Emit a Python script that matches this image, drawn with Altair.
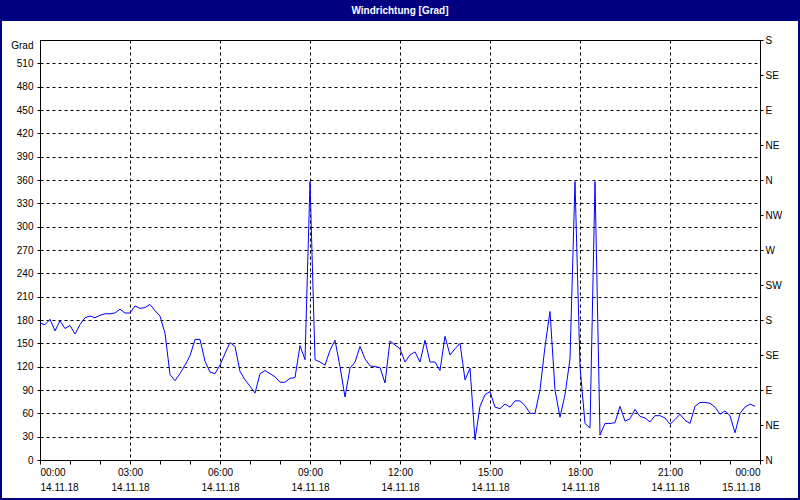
import altair as alt
import pandas as pd

# Wind direction in degrees, 10-minute samples from 14.11.18 00:00 to 23:50
values = [
    176, 174, 181, 166, 179, 169, 173, 162, 174, 183, 185, 183,
    186, 188, 188, 189, 194, 189, 189, 198, 195, 196, 200, 192,
    185, 163, 110, 102, 111, 122, 134, 155, 155, 127, 113, 111,
    122, 137, 151, 146, 114, 103, 95, 86, 111, 115, 111, 107,
    100, 100, 105, 106, 147, 129, 358, 129, 126, 122, 141, 154,
    120, 81, 118, 126, 146, 130, 121, 120, 119, 99, 153, 148,
    143, 126, 135, 139, 126, 154, 126, 126, 115, 159, 135, 143,
    150, 103, 118, 26, 69, 84, 88, 68, 66, 72, 68, 76,
    76, 70, 60, 60, 90, 146, 191, 90, 55, 84, 130, 358,
    120, 47, 41, 358, 32, 47, 47, 48, 69, 50, 53, 65,
    56, 54, 49, 57, 57, 54, 46, 52, 59, 51, 47, 69,
    74, 74, 73, 68, 59, 63, 57, 35, 60, 68, 72, 69,
]
hours = [i / 6 for i in range(len(values))]

title_text = "Windrichtung [Grad]"
left_ticks = list(range(0, 541, 30))
right_ticks = list(range(0, 541, 45))
compass = ["N", "NE", "E", "SE", "S", "SW", "W", "NW"]
hour_ticks = list(range(0, 25))
day1 = "14.11.18"
day2 = "15.11.18"

df = pd.DataFrame({"hour": hours, "value": values})

FONT = "Liberation Sans"
NAVY = "#000080"

x_axis = alt.Axis(
    values=hour_ticks,
    title=None,
    labelExpr=(
        "datum.value % 3 == 0 ? "
        "[(datum.value % 24 < 10 ? '0' : '') + (datum.value % 24) + ':00', "
        f"datum.value < 24 ? '{day1}' : '{day2}'] : ''"
    ),
    labelLineHeight=15,
    labelPadding=3,
    tickSize=4,
    grid=True,
    gridOpacity={"condition": {"test": "datum.value % 3 == 0", "value": 1}, "value": 0},
    labelOverlap=False,
)

line = alt.Chart(df).mark_line(color="#0000ff", strokeWidth=1).encode(
    x=alt.X("hour:Q", scale=alt.Scale(domain=[0, 24], nice=False), axis=x_axis),
    y=alt.Y(
        "value:Q",
        scale=alt.Scale(domain=[0, 540], nice=False),
        axis=alt.Axis(
            values=left_ticks,
            title=None,
            orient="left",
            labelExpr="datum.value == 540 ? 'Grad' : datum.label",
            labelBaseline={"condition": {"test": "datum.value == 540", "value": "top"}, "value": "middle"},
            tickOpacity={"condition": {"test": "datum.value == 540", "value": 0}, "value": 1},
            tickSize=3,
            labelPadding=4,
            grid=True,
            labelOverlap=False,
        ),
    ),
)

compass_expr = "[" + ",".join(f"'{c}'" for c in compass) + "][(datum.value / 45) % 8]"

right = alt.Chart(df).mark_line(strokeOpacity=0).encode(
    x=alt.X("hour:Q", scale=alt.Scale(domain=[0, 24], nice=False), axis=x_axis),
    y=alt.Y(
        "value:Q",
        scale=alt.Scale(domain=[0, 540], nice=False),
        axis=alt.Axis(
            values=right_ticks,
            title=None,
            orient="right",
            labelExpr=compass_expr,
            tickSize=3,
            labelPadding=2,
            grid=False,
            labelOverlap=False,
        ),
    ),
)

one = alt.Data(values=[{"a": 1}])

title_bar = alt.Chart(one).mark_rect(color=NAVY).encode(
    x=alt.value(-40), x2=alt.value(760), y=alt.value(-40), y2=alt.value(-19)
)
title_label = alt.Chart(one).mark_text(
    text=title_text, color="white", font=FONT, fontSize=10, fontWeight="bold",
    align="center", baseline="middle",
).encode(x=alt.value(360), y=alt.value(-29.5))
border = alt.Chart(one).mark_rect(
    fillOpacity=0, stroke=NAVY, strokeWidth=2
).encode(x=alt.value(-39), x2=alt.value(759), y=alt.value(-39), y2=alt.value(459))

chart = (
    alt.layer(line, right, title_bar, title_label, border)
    .resolve_scale(y="independent")
    .properties(
        width=720,
        height=420,
        autosize=alt.AutoSizeParams(type="none"),
        padding={"left": 40, "top": 40, "right": 40, "bottom": 40},
        background="white",
    )
    .configure_view(stroke="black", strokeWidth=1)
    .configure_axis(
        labelFont=FONT,
        labelFontSize=10,
        labelColor="black",
        tickColor="black",
        domainColor="black",
        gridColor="black",
        gridDash=[3, 3],
        gridWidth=1,
        tickWidth=1,
        domainWidth=1,
    )
)

chart.save("out.html", embed_options={"renderer": "svg", "actions": False})
